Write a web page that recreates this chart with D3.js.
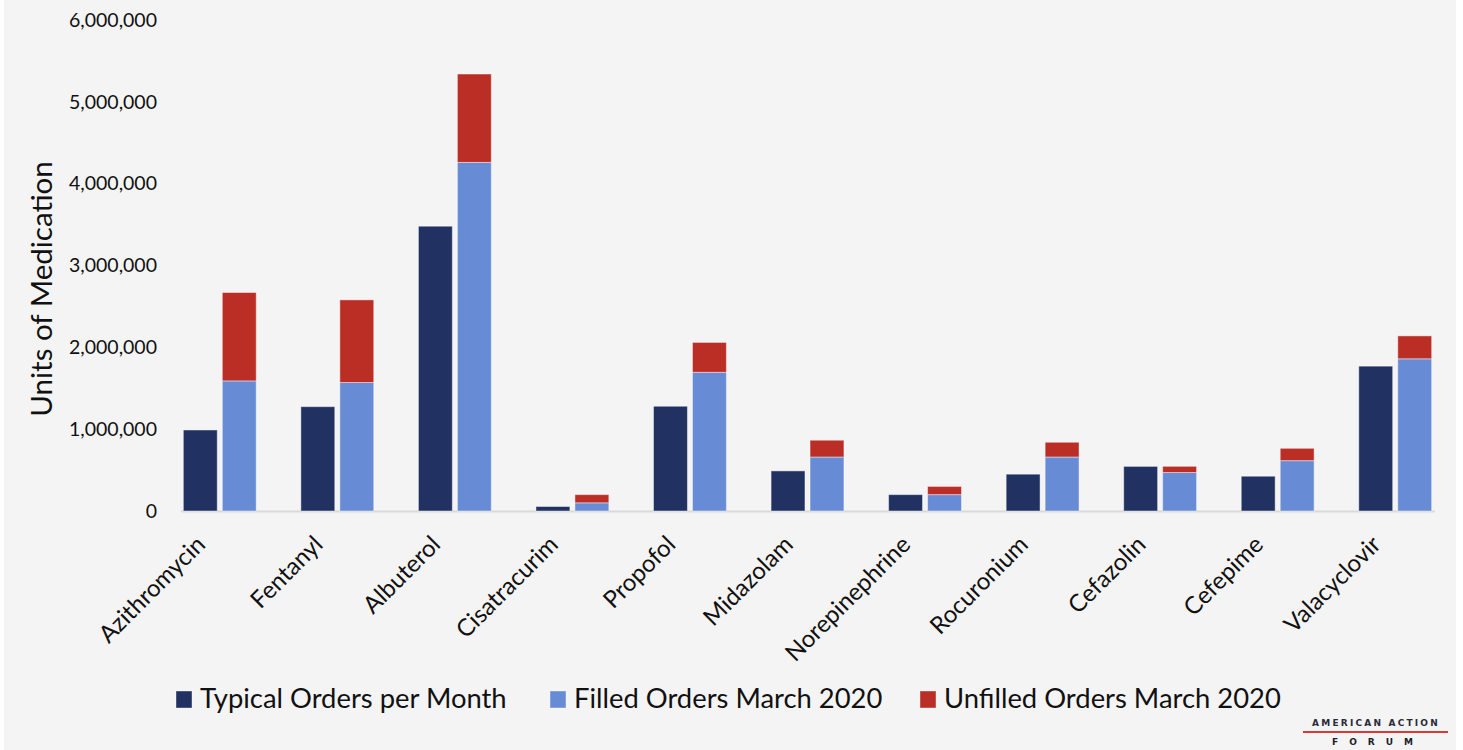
<!DOCTYPE html>
<html><head><meta charset="utf-8">
<script src="https://cdn.jsdelivr.net/npm/d3@7"></script>
<style>
html,body{margin:0;padding:0;background:#fff;}
svg{display:block;}
text{font-family:Lato,"Liberation Sans",sans-serif;fill:#111;}
</style></head>
<body>
<svg id="chart" width="1463" height="750"></svg>
<script>
const categories = ["Azithromycin","Fentanyl","Albuterol","Cisatracurim","Propofol","Midazolam","Norepinephrine","Rocuronium","Cefazolin","Cefepime","Valacyclovir"];
const typicalOrders = [990000,1275000,3480000,55000,1280000,490000,200000,450000,545000,425000,1770000];
const filledOrders = [1590000,1570000,4260000,100000,1695000,660000,200000,660000,470000,615000,1860000];
const unfilledOrders = [1080000,1010000,1080000,100000,365000,205000,100000,180000,76000,151000,280000];
const yTicks = [0,1000000,2000000,3000000,4000000,5000000,6000000];
const seriesNames = ["Typical Orders per Month","Filled Orders March 2020","Unfilled Orders March 2020"];
const seriesColors = ["#213161","#678bd5","#bb2e26"];

const svg = d3.select("#chart");
svg.append("rect").attr("x",4).attr("y",0).attr("width",1452).attr("height",750).attr("fill","#f4f4f4");

const x0 = d3.scaleBand().domain(categories).range([161,1454]).paddingInner(0.38).paddingOuter(0.19);
const x1 = d3.scaleBand().domain(["typical","march"]).range([0,x0.bandwidth()]).paddingInner(0.13);
const y = d3.scaleLinear().domain([0,6000000]).range([511,20]);

// y axis labels
const fmt = d3.format(",");
svg.append("g").selectAll("text").data(yTicks).join("text")
  .attr("x",157).attr("y",d=>y(d)).attr("dy","0.35em")
  .attr("text-anchor","end").style("font-size","19.5px").text(d=>fmt(d));

// axis line
svg.append("line").attr("x1",181).attr("x2",1435).attr("y1",y(0)+0.5).attr("y2",y(0)+0.5)
  .attr("stroke","#d9d9d9").attr("stroke-width",2);

const rows = categories.map((c,i)=>({cat:c,typical:typicalOrders[i],filled:filledOrders[i],unfilled:unfilledOrders[i]}));
const stack = d3.stack().keys(["filled","unfilled"])(rows);

const g = svg.append("g");
// typical bars
g.selectAll("rect.typ").data(rows).join("rect").attr("class","typ")
  .attr("x",d=>x0(d.cat)+x1("typical")).attr("width",x1.bandwidth())
  .attr("y",d=>y(d.typical)).attr("height",d=>y(0)-y(d.typical))
  .attr("fill",seriesColors[0]).attr("stroke","#ffffff").attr("stroke-opacity",0.45).attr("stroke-width",1);
// stacked march bars
stack.forEach((layer,li)=>{
  g.selectAll("rect.s"+li).data(layer).join("rect").attr("class","s"+li)
    .attr("x",d=>x0(d.data.cat)+x1("march")).attr("width",x1.bandwidth())
    .attr("y",d=>y(d[1])).attr("height",d=>y(d[0])-y(d[1]))
    .attr("fill",seriesColors[li+1]).attr("stroke","#ffffff").attr("stroke-opacity",0.45).attr("stroke-width",1);
});

// x labels
svg.append("g").selectAll("text").data(categories).join("text")
  .attr("transform",d=>`translate(${x0(d)+x0.bandwidth()/2-13},546) rotate(-45)`)
  .attr("text-anchor","end").style("font-size","24px").text(d=>d);

// y title
svg.append("text").attr("transform","translate(52,289) rotate(-90)")
  .attr("text-anchor","middle").style("font-size","29.5px").text("Units of Medication");

// legend
const legendX = [176,550,920];
const lg = svg.append("g");
seriesNames.forEach((n,i)=>{
  lg.append("rect").attr("x",legendX[i]).attr("y",691).attr("width",16).attr("height",17)
    .attr("fill",seriesColors[i]).attr("stroke","#ffffff").attr("stroke-opacity",0.4);
  lg.append("text").attr("x",legendX[i]+24).attr("y",708).style("font-size","27.4px").text(n);
});

// logo
svg.append("text").attr("x",1376).attr("y",726).attr("text-anchor","middle")
  .style("font-size","9px").style("font-weight","900").style("letter-spacing","2.2px").style("fill","#2a2a3a")
  .style("font-family","'DejaVu Sans',sans-serif").text("AMERICAN ACTION");
svg.append("line").attr("x1",1303).attr("x2",1448).attr("y1",732).attr("y2",732).attr("stroke","#d43a3a").attr("stroke-width",2);
svg.append("text").attr("x",1378).attr("y",745).attr("text-anchor","middle")
  .style("font-size","9px").style("font-weight","900").style("letter-spacing","11px").style("fill","#1e1e2a")
  .style("font-family","'DejaVu Sans',sans-serif").text("FORUM");
</script>
</body></html>
